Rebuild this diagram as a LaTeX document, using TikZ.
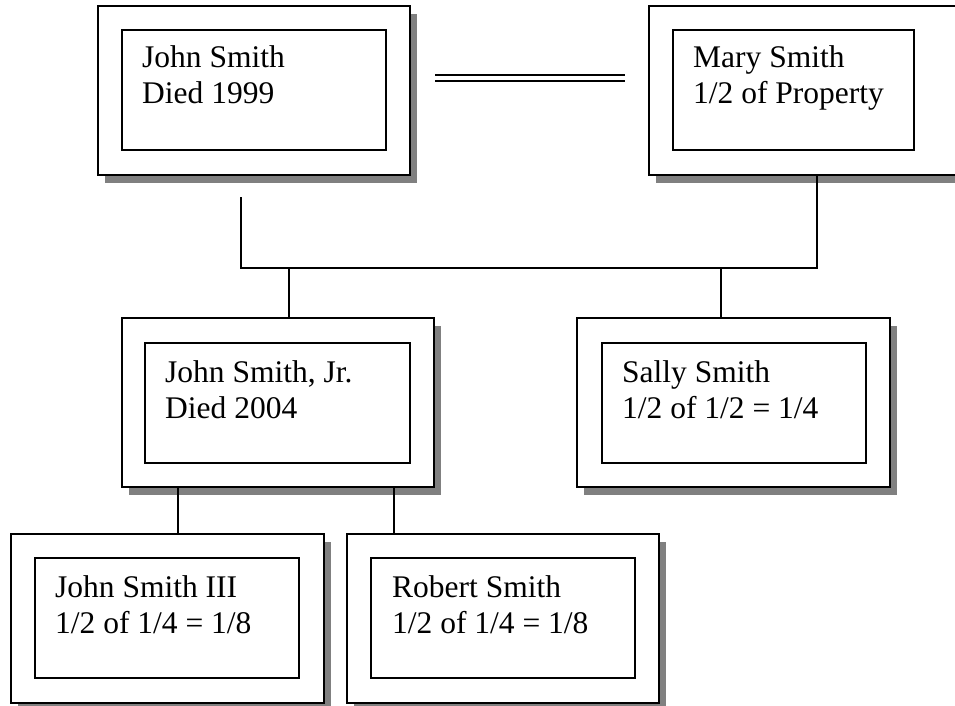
\documentclass[tikz,border=0pt]{standalone}
\usepackage{fontspec}
\setmainfont{Liberation Serif}
\usetikzlibrary{shadows}
\definecolor{shadowgray}{RGB}{128,128,128}
\tikzset{
  outerbox/.style={draw=black, line width=2pt, fill=white, inner sep=0pt,
    minimum width=312pt, minimum height=169pt, anchor=north west,
    drop shadow={shadow xshift=7pt, shadow yshift=-8pt, fill=shadowgray, opacity=1}},
  innerbox/.style={draw=black, line width=2pt, fill=white, inner sep=0pt,
    minimum height=120pt, anchor=north west},
  % anchored at the baseline of the second (last) line
  nametext/.style={anchor=base west, inner sep=0pt, align=left,
    font=\fontsize{31.5}{36}\selectfont},
  link/.style={draw=black, line width=1.8pt},
  marriage/.style={draw=black, line width=2.5pt, double=white, double distance=3.5pt},
}
\begin{document}
\begin{tikzpicture}[x=1pt, y=-1pt]
  \useasboundingbox (0,0) rectangle (955,706);
  \clip (0,0) rectangle (955,706);
  \fill[white] (0,0) rectangle (955,706);

  % first generation
  \node[outerbox] (js) at (97,5) {};
  \node[innerbox, minimum width=264pt] (jsin) at (121,29) {};
  \node[nametext] (jstxt) at (142,104) {John Smith\\Died 1999};

  \node[outerbox] (ms) at (648,5) {};
  \node[innerbox, minimum width=241pt] (msin) at (672,29) {};
  \node[nametext] (mstxt) at (693,104) {Mary Smith\\1/2 of Property};

  % second generation
  \node[outerbox] (jr) at (121,317) {};
  \node[innerbox, minimum width=265pt] (jrin) at (144,342) {};
  \node[nametext] (jrtxt) at (165,418) {John Smith, Jr.\\Died 2004};

  \node[outerbox, minimum width=313pt] (ss) at (576,317) {};
  \node[innerbox, minimum width=264pt] (ssin) at (601,342) {};
  \node[nametext] (sstxt) at (622,418) {Sally Smith\\1/2 of 1/2 = 1/4};

  % third generation
  \node[outerbox, minimum width=313pt] (c1) at (10,533) {};
  \node[innerbox, minimum width=264pt] (c1in) at (34,557) {};
  \node[nametext] (c1txt) at (55,633) {John Smith III\\1/2 of 1/4 = 1/8};

  \node[outerbox] (c2) at (346,533) {};
  \node[innerbox, minimum width=264pt] (c2in) at (370,557) {};
  \node[nametext] (c2txt) at (392,633) {Robert Smith\\1/2 of 1/4 = 1/8};

  % marriage line
  \draw[marriage, shorten <=24pt, shorten >=23pt]
    ([yshift=12.5pt]js.east) -- ([yshift=12.5pt]ms.west);

  % descent from the couple
  \coordinate (jsdrop) at (241,197);
  \coordinate (msfoot) at (817,0 |- ms.south);
  \draw[link] (jsdrop) -- (241,268) -| (msfoot);
  \coordinate (barjr) at (289,268);
  \coordinate (barss) at (721,268);
  \draw[link] (barjr) -- (289,0 |- jr.north);
  \draw[link] (barss) -- (721,0 |- ss.north);

  % descent from John Smith, Jr.
  \draw[link] (178,0 |- jr.south) -- (178,0 |- c1.north);
  \draw[link] (394,0 |- jr.south) -- (394,0 |- c2.north);
\end{tikzpicture}
\end{document}
